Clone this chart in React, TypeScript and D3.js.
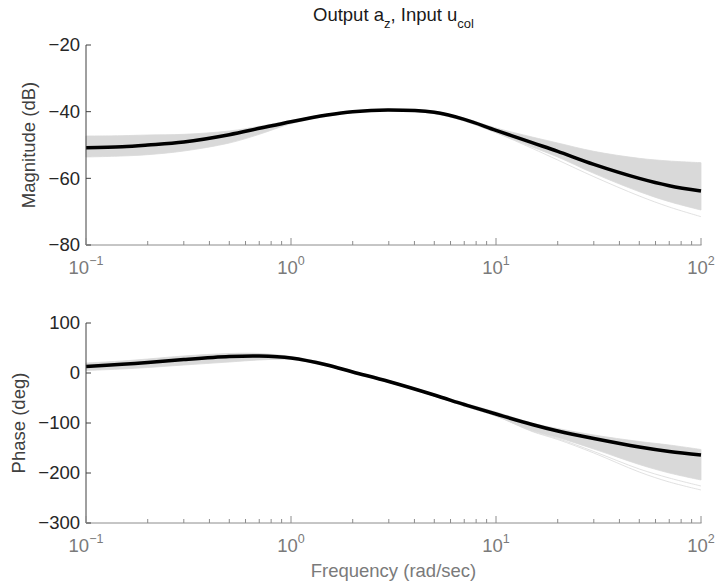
import * as d3 from 'd3';

const freqs = [0.1, 0.15, 0.2, 0.3, 0.5, 0.7, 1, 1.5, 2, 3, 5, 7, 10, 15, 20, 30, 50, 70, 100];

// magnitude (dB): nominal model and spread of the uncertain models
const magNominal = [-50.8, -50.5, -50.0, -49.1, -46.9, -45.0, -43.0, -41.0, -40.0, -39.5, -40.2, -42.3, -45.6, -49.3, -51.9, -55.8, -60.0, -62.2, -63.8];
const magUpper = [-47.3, -47.2, -47.0, -46.8, -45.8, -44.4, -42.6, -40.7, -39.8, -39.2, -39.9, -41.9, -44.9, -47.6, -49.4, -51.9, -54.0, -54.8, -55.3];
const magLower = [-53.6, -53.3, -52.9, -51.8, -49.4, -46.8, -43.6, -41.4, -40.3, -39.8, -40.6, -42.8, -46.3, -50.6, -53.6, -58.5, -64.0, -67.0, -69.5];
const magOutlier = [-50.8, -50.5, -50.0, -49.1, -46.9, -45.0, -43.0, -41.0, -40.0, -39.5, -40.6, -42.8, -46.3, -51.0, -54.5, -59.5, -65.3, -68.6, -71.5];

// phase (deg)
const phaseNominal = [13, 17.5, 21, 27, 33, 34, 30, 16, 2, -17, -44, -63, -82, -103, -116, -131, -148, -157, -164];
const phaseUpper = [20, 24, 28, 34, 39, 39, 33, 19, 4, -15, -42, -60, -78, -100, -111, -124, -137, -144, -153];
const phaseLower = [5, 8, 11, 16, 22, 26, 27, 14, 0, -19, -46, -66, -86, -115, -129, -152, -183, -200, -214];
const phaseOutlierA = [13, 17.5, 21, 27, 33, 34, 30, 16, 2, -17, -46, -66, -86, -116, -131, -157, -192, -210, -226];
const phaseOutlierB = [13, 17.5, 21, 27, 33, 34, 30, 16, 2, -17, -46, -66, -86, -117, -133, -160, -198, -218, -234];

const decades = [0.1, 1, 10, 100];
const decadeExp = ['\u22121', '0', '1', '2'];
const magTicks = [-20, -40, -60, -80];
const phaseTicks = [100, 0, -100, -200, -300];

const FONT = 'Liberation Sans, Arial, Helvetica, sans-serif';
const LEFT = 86;
const RIGHT = 701;

function Axes({ y, ticks, top, bottom, label, labelX }) {
  const x = d3.scaleLog().domain([0.1, 100]).range([LEFT, RIGHT]);
  const minor = x.ticks().filter(t => !decades.some(d => Math.abs(d - t) < 1e-9));
  return (
    <g fontFamily={FONT}>
      <line x1={LEFT} x2={LEFT} y1={top} y2={bottom} stroke="#404040" strokeWidth={1} />
      <line x1={LEFT} x2={RIGHT + 0.5} y1={bottom} y2={bottom} stroke="#8c8c8c" strokeWidth={1} />
      {ticks.map(t => (
        <g key={t}>
          <line x1={LEFT} x2={LEFT + 5} y1={y(t)} y2={y(t)} stroke="#404040" />
          <text x={80} y={y(t)} dy="0.35em" textAnchor="end" fontSize={18.5} fill="#262626">
            {t < 0 ? '\u2212' + Math.abs(t) : t}
          </text>
        </g>
      ))}
      {minor.map(t => (
        <line key={t} x1={x(t)} x2={x(t)} y1={bottom} y2={bottom - 4} stroke="#8c8c8c" />
      ))}
      {decades.map((d, i) => (
        <g key={d}>
          <line x1={x(d)} x2={x(d)} y1={bottom} y2={bottom - 7} stroke="#8c8c8c" />
          <text x={x(d)} y={bottom + 29} textAnchor="middle" fontSize={18.5} fill="#7a7a7a">
            10<tspan dy={-9} fontSize={12.5}>{decadeExp[i]}</tspan>
          </text>
        </g>
      ))}
      <text
        transform={`translate(${labelX},${(top + bottom) / 2}) rotate(-90)`}
        textAnchor="middle"
        fontSize={18.5}
        fill="#404040"
      >
        {label}
      </text>
    </g>
  );
}

export default function App() {
  const x = d3.scaleLog().domain([0.1, 100]).range([LEFT, RIGHT]);
  const yMag = d3.scaleLinear().domain([-80, -20]).range([245, 45]);
  const yPh = d3.scaleLinear().domain([-300, 100]).range([523, 323]);

  const curve = d3.curveCatmullRom.alpha(0.5);
  const lineOf = (y, vals) =>
    d3.line().x((_, i) => x(freqs[i])).y(v => y(v)).curve(curve)(vals);
  const bandOf = (y, lo, hi) =>
    d3.area().x((_, i) => x(freqs[i])).y0((_, i) => y(lo[i])).y1(v => y(v)).curve(curve)(hi);

  return (
    <svg width={715} height={583} style={{ position: 'absolute', left: 0, top: 0, background: '#fff' }}>
      <rect width={715} height={583} fill="#fff" />

      {/* title */}
      <text x={393.5} y={21} textAnchor="middle" fontFamily={FONT} fontSize={18.5} fill="#1a1a1a">
        Output a<tspan dy={7} fontSize={13}>z</tspan>
        <tspan dy={-7}>, Input u</tspan>
        <tspan dy={7} fontSize={13}>col</tspan>
      </text>

      {/* magnitude */}
      <path d={bandOf(yMag, magLower, magUpper)} fill="#d9d9d9" stroke="#d9d9d9" strokeWidth={0.8} />
      <path d={lineOf(yMag, magOutlier)} fill="none" stroke="#d9d9d9" strokeWidth={0.8} />
      <path d={lineOf(yMag, magNominal)} fill="none" stroke="#000" strokeWidth={3.5} />
      <Axes y={yMag} ticks={magTicks} top={45} bottom={245} label="Magnitude (dB)" labelX={35} />

      {/* phase */}
      <path d={bandOf(yPh, phaseLower, phaseUpper)} fill="#d9d9d9" stroke="#d9d9d9" strokeWidth={0.8} />
      <path d={lineOf(yPh, phaseOutlierA)} fill="none" stroke="#d9d9d9" strokeWidth={0.8} />
      <path d={lineOf(yPh, phaseOutlierB)} fill="none" stroke="#d9d9d9" strokeWidth={0.8} />
      <path d={lineOf(yPh, phaseNominal)} fill="none" stroke="#000" strokeWidth={3.5} />
      <Axes y={yPh} ticks={phaseTicks} top={323} bottom={523} label="Phase (deg)" labelX={25} />

      <text x={393.5} y={577} textAnchor="middle" fontFamily={FONT} fontSize={18.5} fill="#7a7a7a">
        Frequency (rad/sec)
      </text>
    </svg>
  );
}
